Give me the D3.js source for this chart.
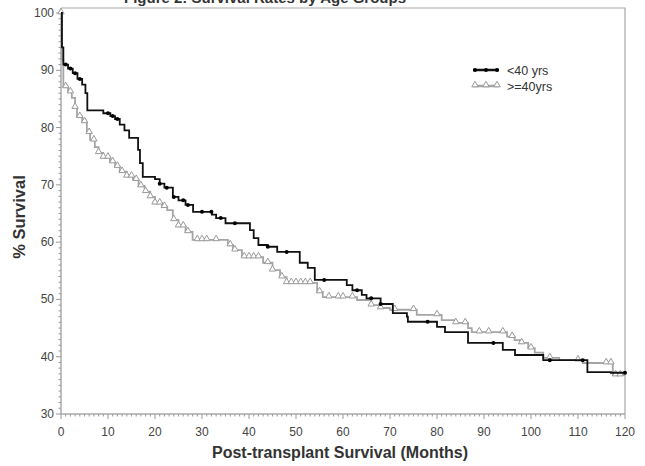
<!DOCTYPE html>
<html>
<head>
<meta charset="utf-8">
<script src="https://cdn.jsdelivr.net/npm/d3@7"></script>
<style>
  body { margin: 0; background: #fff; }
  svg { display: block; font-family: Arial, "Liberation Sans", sans-serif; }
</style>
</head>
<body>
<script>
// step points of the Kaplan-Meier curves (months, % survival)
var youngTimes = [0, 0.2, 0.5, 1.5, 2.5, 3.5, 4.5, 5.2, 5.6, 9, 10.5, 11.5, 12.5, 13.5, 14.5, 16.4, 16.8, 17.4, 20, 21, 22, 23.8, 25, 26.5, 28.1, 32.1, 33, 35, 40.2, 41, 42, 44, 46, 50.8, 52.5, 54, 60.8, 62, 64, 65, 68, 70.6, 73.6, 73.8, 80, 81.7, 86.6, 94, 96.6, 102.6, 112, 117];
var youngSurv  = [100, 94, 91, 90.3, 89.5, 88.5, 87.5, 86, 83, 82.5, 82, 81.5, 80.5, 79.5, 78.2, 76.1, 73.8, 71.4, 71, 70.2, 69.5, 67.9, 67.3, 66.5, 65.3, 64.8, 64.2, 63.3, 62.1, 60.7, 59.5, 59.2, 58.3, 56.4, 55.5, 53.4, 52.5, 51.6, 50.8, 50.2, 49.2, 47.6, 47, 46.1, 45.2, 44.3, 42.4, 41.2, 40.3, 39.4, 37.3, 37.2];

var oldTimes = [0, 0.2, 0.5, 1.5, 2.3, 3, 3.4, 4.5, 5.5, 6.2, 7.2, 8, 9, 10.4, 11.5, 12.5, 14, 15.3, 16.5, 17.8, 19, 20, 21.5, 22.6, 23.8, 25, 26.5, 28, 35.5, 36.6, 38.5, 43, 45, 46.6, 48, 54.5, 55.7, 63, 66, 68, 70, 75.7, 81, 83.8, 86.6, 87.4, 94.9, 96.5, 97.7, 99.4, 100.8, 102.6, 106, 111, 117.4];
var oldSurv  = [100, 91.8, 87.1, 86.2, 85.2, 83.5, 81.9, 81, 79.1, 77.8, 76.6, 75.6, 74.8, 74, 73.2, 72.3, 71.5, 70.9, 69.8, 68.8, 67.9, 66.8, 66.2, 65.6, 63.9, 62.8, 61.8, 60.4, 59.5, 58.6, 57.4, 56.4, 55.1, 53.9, 52.9, 51.3, 50.4, 49.9, 49, 48.5, 48.2, 47.3, 46.4, 45.9, 45, 44.3, 43.5, 42.9, 42.4, 41.5, 40.7, 39.8, 39.4, 38.9, 36.8];

// censored observations (months)
var youngCensor = [1, 2, 3, 4, 10, 11, 12, 21, 22.5, 24, 26, 27, 30, 32, 34, 37, 44, 48, 56, 63, 66, 68, 78, 92, 104, 111, 120];
var oldCensor = [0, 1, 2, 3, 4, 5, 6, 7, 8, 9, 10, 11, 12, 13, 14, 15, 16, 17, 18, 19, 20, 21, 22, 24, 25, 26, 27, 29, 30, 31, 33, 36, 37, 39, 40, 41, 42, 44, 45, 47, 48, 49, 50, 51, 52, 53, 55, 57, 59, 60, 62, 66, 68, 71, 75, 80, 84, 86, 89, 91, 94, 96, 98, 100, 104, 110, 116, 117, 118, 119];

var xTicks = [0, 10, 20, 30, 40, 50, 60, 70, 80, 90, 100, 110, 120];
var yTicks = [30, 40, 50, 60, 70, 80, 90, 100];
var seriesNames = ["<40 yrs", ">=40yrs"];

var W = 645, H = 466;
var svg = d3.select("body").append("svg").attr("width", W).attr("height", H);

var x = d3.scaleLinear().domain([0, 120]).range([61, 625]);
var y = d3.scaleLinear().domain([30, 100]).range([414, 13]);

// title, mostly cut off at the top of the picture
svg.append("text")
    .attr("x", 265).attr("y", 3)
    .attr("text-anchor", "middle")
    .style("font-size", "15px").style("font-weight", "bold").style("fill", "#333")
    .text("Figure 2: Survival Rates by Age Groups");

// frame (top and right)
svg.append("path")
    .attr("d", "M" + x(0) + "," + 8 + "H" + x(120) + "V" + y(30))
    .attr("fill", "none").attr("stroke", "#a8a8a8").attr("stroke-width", 1.2);

// axes
var xAxis = svg.append("g").attr("transform", "translate(0," + y(30) + ")");
xAxis.append("line").attr("x1", x(0)).attr("x2", x(120)).attr("stroke", "#aaa").attr("stroke-width", 1.5);
xAxis.selectAll(".minor").data(d3.range(0, 121, 1)).enter().append("line")
    .attr("x1", d => x(d)).attr("x2", d => x(d)).attr("y1", 0).attr("y2", d => d % 10 === 0 ? 5 : 2.5)
    .attr("stroke", "#999").attr("stroke-width", 1);
xAxis.selectAll(".lab").data(xTicks).enter().append("text")
    .attr("x", d => x(d)).attr("y", 22)
    .attr("text-anchor", "middle")
    .style("font-size", "12px").style("fill", "#444")
    .text(d => d);

var yAxis = svg.append("g").attr("transform", "translate(" + x(0) + ",0)");
yAxis.append("line").attr("y1", 8).attr("y2", y(30)).attr("stroke", "#aaa").attr("stroke-width", 1.5);
yAxis.selectAll(".minor").data(d3.range(30, 100.1, 1)).enter().append("line")
    .attr("y1", d => y(d)).attr("y2", d => y(d)).attr("x1", 0).attr("x2", d => d % 10 === 0 ? -5 : -2.5)
    .attr("stroke", "#999").attr("stroke-width", 1);
yAxis.selectAll(".lab").data(yTicks).enter().append("text")
    .attr("x", -7).attr("y", d => y(d) + 4)
    .attr("text-anchor", "end")
    .style("font-size", "12px").style("fill", "#444")
    .text(d => d);

// axis titles
svg.append("text")
    .attr("x", 340).attr("y", 458)
    .attr("text-anchor", "middle")
    .style("font-size", "16px").style("font-weight", "bold").style("fill", "#333")
    .text("Post-transplant Survival (Months)");
svg.append("text")
    .attr("transform", "translate(25,217) rotate(-90)")
    .attr("text-anchor", "middle")
    .style("font-size", "16.5px").style("font-weight", "bold").style("fill", "#333")
    .text("% Survival");

function stepData(times, surv) {
  var pts = times.map((t, i) => [t, surv[i]]);
  pts.push([120, surv[surv.length - 1]]);
  return pts;
}
function survAt(times, surv, t) {
  var i = d3.bisectRight(times, t) - 1;
  return surv[Math.max(0, i)];
}

var line = d3.line().x(d => x(d[0])).y(d => y(d[1])).curve(d3.curveStepAfter);

// >=40 (grey, open triangles)
svg.append("path").datum(stepData(oldTimes, oldSurv))
    .attr("d", line).attr("fill", "none").attr("stroke", "#a5a5a5").attr("stroke-width", 1.8);
var tri = d3.symbol().type(d3.symbolTriangle).size(18);
svg.selectAll(".oc").data(oldCensor).enter().append("path")
    .attr("d", tri)
    .attr("transform", d => "translate(" + x(d) + "," + (y(survAt(oldTimes, oldSurv, d)) - 1) + ")")
    .attr("fill", "#fff").attr("stroke", "#9a9a9a").attr("stroke-width", 1);

// <40 (black, dots)
svg.append("path").datum(stepData(youngTimes, youngSurv))
    .attr("d", line).attr("fill", "none").attr("stroke", "#111").attr("stroke-width", 1.8);
svg.selectAll(".yc").data(youngCensor).enter().append("circle")
    .attr("cx", d => x(d)).attr("cy", d => y(survAt(youngTimes, youngSurv, d)))
    .attr("r", 2).attr("fill", "#000");

// legend
var legend = svg.append("g").attr("transform", "translate(473,70)");
var legColors = ["#111", "#a5a5a5"];
seriesNames.forEach(function(name, i) {
  var g = legend.append("g").attr("transform", "translate(0," + i * 16 + ")");
  g.append("line").attr("x1", 0).attr("x2", 26).attr("stroke", legColors[i]).attr("stroke-width", 2.5);
  if (i === 0) {
    [2, 13, 24].forEach(p => g.append("circle").attr("cx", p).attr("cy", 0).attr("r", 2).attr("fill", "#000"));
  } else {
    [2, 13, 24].forEach(p => g.append("path").attr("d", tri).attr("transform", "translate(" + p + ",-1)")
      .attr("fill", "#fff").attr("stroke", "#9a9a9a"));
  }
  g.append("text").attr("x", 34).attr("y", 4.5)
    .style("font-size", "12.5px").style("fill", "#333").text(name);
});
</script>
</body>
</html>
